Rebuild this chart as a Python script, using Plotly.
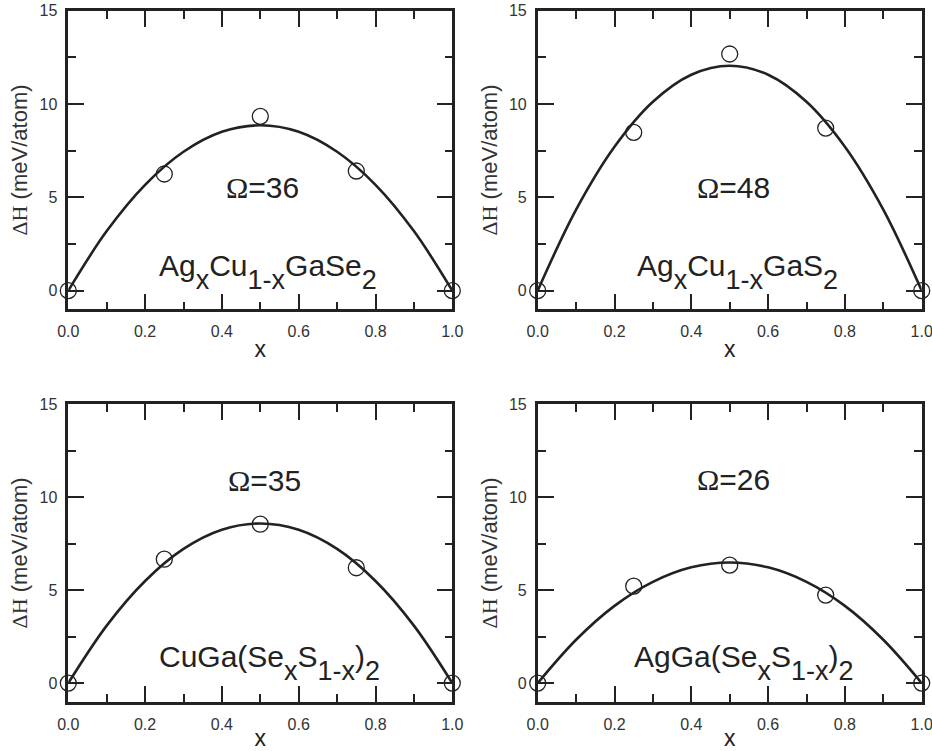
import plotly.graph_objects as go
from plotly.subplots import make_subplots

# ---- data ----
x_pts = [0.0, 0.25, 0.5, 0.75, 1.0]
dh_agcu_gase2 = [0.0, 6.25, 9.34, 6.41, 0.0]
dh_agcu_gas2 = [0.0, 8.48, 12.68, 8.71, 0.0]
dh_cuga_ses = [0.0, 6.66, 8.54, 6.20, 0.0]
dh_agga_ses = [0.0, 5.21, 6.34, 4.73, 0.0]

x_fit = [0.0, 0.1, 0.2, 0.3, 0.4, 0.5, 0.6, 0.7, 0.8, 0.9, 1.0]
fit_agcu_gase2 = [0.0, 3.19, 5.67, 7.44, 8.51, 8.86, 8.51, 7.44, 5.67, 3.19, 0.0]
fit_agcu_gas2 = [0.0, 4.34, 7.71, 10.12, 11.57, 12.05, 11.57, 10.12, 7.71, 4.34, 0.0]
fit_cuga_ses = [0.0, 3.09, 5.49, 7.21, 8.24, 8.58, 8.24, 7.21, 5.49, 3.09, 0.0]
fit_agga_ses = [0.0, 2.33, 4.15, 5.44, 6.22, 6.48, 6.22, 5.44, 4.15, 2.33, 0.0]

omega_values = ["36", "48", "35", "26"]

SUB = '<span style="font-size:27px;baseline-shift:-13px">{}</span>'
compound_labels = [
    "Ag" + SUB.format("x") + "Cu" + SUB.format("1-x") + "GaSe" + SUB.format("2"),
    "Ag" + SUB.format("x") + "Cu" + SUB.format("1-x") + "GaS" + SUB.format("2"),
    "CuGa(Se" + SUB.format("x") + "S" + SUB.format("1-x") + ")" + SUB.format("2"),
    "AgGa(Se" + SUB.format("x") + "S" + SUB.format("1-x") + ")" + SUB.format("2"),
]

x_major_step, x_minor_step = 0.2, 0.1
y_major_step, y_minor_step = 5, 2.5

# ---- figure ----
INK = "#222222"
FONT = "Liberation Sans, Arial, sans-serif"

fig = make_subplots(rows=2, cols=2)

panels = [
    (1, 1, dh_agcu_gase2, fit_agcu_gase2),
    (1, 2, dh_agcu_gas2, fit_agcu_gas2),
    (2, 1, dh_cuga_ses, fit_cuga_ses),
    (2, 2, dh_agga_ses, fit_agga_ses),
]

for r, c, pts, fit in panels:
    fig.add_trace(go.Scatter(x=x_fit, y=fit, mode="lines",
                             line=dict(color=INK, width=2.6, shape="spline", smoothing=1.0),
                             hoverinfo="skip", showlegend=False, cliponaxis=False),
                  row=r, col=c)
    fig.add_trace(go.Scatter(x=x_pts, y=pts, mode="markers",
                             marker=dict(symbol="circle-open", size=16, color=INK,
                                         line=dict(width=1.3, color=INK)),
                             showlegend=False, cliponaxis=False),
                  row=r, col=c)

xdom = [[68.3 / 932, 452.3 / 932], [537.7 / 932, 921.7 / 932]]
ydom = [[1 - 309.3 / 751, 1 - 10.7 / 751], [1 - 701.7 / 751, 1 - 404.0 / 751]]

axis_common = dict(
    showline=True, linewidth=2.6, linecolor=INK, mirror="allticks",
    ticks="inside", ticklen=16, tickwidth=1.5, tickcolor=INK,
    showgrid=False, zeroline=False, automargin=False,
    ticklabeloverflow="allow",
    tickfont=dict(family=FONT, size=16, color="#333333"),
)

for i, (r, c, _, _) in enumerate(panels):
    fig.update_xaxes(
        range=[0, 1], domain=xdom[c - 1],
        tick0=0, dtick=x_major_step, tickformat=".1f",
        minor=dict(ticks="inside", ticklen=8, tickwidth=1.5, tickcolor=INK,
                   dtick=x_minor_step, showgrid=False),
        title=dict(text="x", font=dict(family=FONT, size=23, color=INK), standoff=2),
        ticklabelstandoff=6,
        row=r, col=c, **axis_common)
    fig.update_yaxes(
        range=[-1, 15], domain=ydom[r - 1],
        tick0=0, dtick=y_major_step,
        minor=dict(ticks="inside", ticklen=8, tickwidth=1.5, tickcolor=INK,
                   dtick=y_minor_step, showgrid=False),
        title=dict(text='<span style="font-family:Liberation Serif">ΔH</span> (meV/atom)',
                   font=dict(family=FONT, size=22, color="#333333"), standoff=6),
        ticklabelstandoff=5,
        row=r, col=c, **axis_common)

omega_pos = [(0.506, 5.5), (0.51, 5.5), (0.51, 10.9), (0.51, 10.95)]
label_pos = [(0.521, 1.0), (0.52, 1.0), (0.525, 1.1), (0.537, 1.1)]

annotations = []
axref = [("x", "y"), ("x2", "y2"), ("x3", "y3"), ("x4", "y4")]
for i in range(4):
    xr, yr = axref[i]
    ox, oy = omega_pos[i]
    annotations.append(dict(
        x=ox, y=oy, xref=xr, yref=yr, showarrow=False,
        text='<span style="font-family:Liberation Serif">Ω</span>=' + omega_values[i],
        font=dict(family=FONT, size=30, color=INK),
        xanchor="center", yanchor="middle"))
    lx, ly = label_pos[i]
    annotations.append(dict(
        x=lx, y=ly, xref=xr, yref=yr, showarrow=False,
        text=compound_labels[i],
        font=dict(family=FONT, size=30, color=INK),
        xanchor="center", yanchor="middle"))

fig.update_layout(
    template="none",
    width=932, height=751,
    margin=dict(l=0, r=0, t=0, b=0, autoexpand=False),
    paper_bgcolor="white", plot_bgcolor="white",
    font=dict(family=FONT, color=INK),
    annotations=annotations,
    showlegend=False,
)

fig.write_html("out.html")
